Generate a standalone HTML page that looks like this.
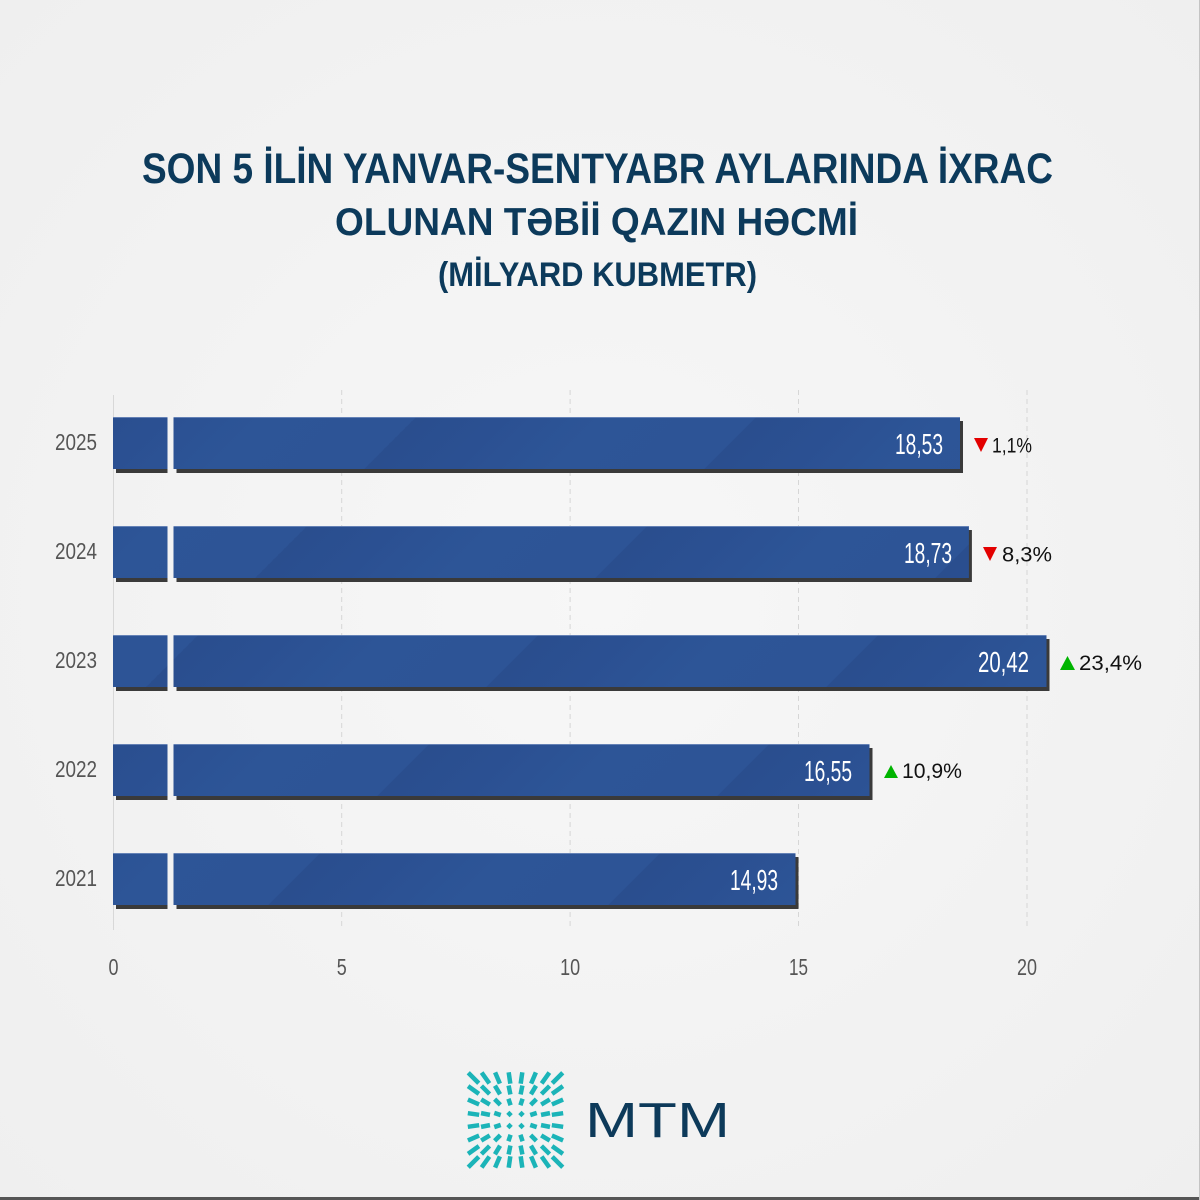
<!DOCTYPE html>
<html><head><meta charset="utf-8"><style>
html,body{margin:0;padding:0;background:#f2f2f2;}
svg{display:block;}
</style></head><body>
<svg width="1200" height="1200" viewBox="0 0 1200 1200" xmlns="http://www.w3.org/2000/svg">
<defs>
<radialGradient id="bg" cx="0.5" cy="0.5" r="0.7">
<stop offset="0" stop-color="#f7f7f7"/><stop offset="1" stop-color="#efefef"/>
</radialGradient>
<linearGradient id="stripe" gradientUnits="userSpaceOnUse" x1="0" y1="0" x2="170" y2="170" spreadMethod="repeat">
<stop offset="0" stop-color="#2d5597"/><stop offset="0.45" stop-color="#2d5496"/>
<stop offset="0.45" stop-color="#2a4e8e"/><stop offset="0.7" stop-color="#2b5092"/>
<stop offset="1" stop-color="#2d5597"/>
</linearGradient>
<g id="q" stroke="#1bb4b8" stroke-width="4.5" stroke-linecap="butt">
<line x1="4.34" y1="4.34" x2="7.66" y2="7.66"/>
<line x1="4.93" y1="14.77" x2="7.07" y2="21.23"/>
<line x1="5.11" y1="25.53" x2="6.89" y2="34.47"/>
<line x1="5.19" y1="36.32" x2="6.81" y2="47.68"/>
<line x1="14.77" y1="4.93" x2="21.23" y2="7.07"/>
<line x1="15.14" y1="15.14" x2="20.86" y2="20.86"/>
<line x1="15.43" y1="25.71" x2="20.57" y2="34.29"/>
<line x1="15.61" y1="36.42" x2="20.39" y2="47.58"/>
<line x1="25.53" y1="5.11" x2="34.47" y2="6.89"/>
<line x1="25.71" y1="15.43" x2="34.29" y2="20.57"/>
<line x1="25.94" y1="25.94" x2="34.06" y2="34.06"/>
<line x1="26.13" y1="36.58" x2="33.87" y2="47.42"/>
<line x1="36.32" y1="5.19" x2="47.68" y2="6.81"/>
<line x1="36.42" y1="15.61" x2="47.58" y2="20.39"/>
<line x1="36.58" y1="26.13" x2="47.42" y2="33.87"/>
<line x1="36.74" y1="36.74" x2="47.26" y2="47.26"/>
</g>
</defs>
<rect width="1200" height="1200" fill="url(#bg)"/>

<!-- Title -->
<g fill="#0c3a5b" font-family="Liberation Sans, sans-serif" font-weight="bold">
<text x="142" y="183" font-size="43" textLength="911" lengthAdjust="spacingAndGlyphs">SON 5 İLİN YANVAR-SENTYABR AYLARINDA İXRAC</text>
<text x="335" y="235" font-size="39" textLength="523" lengthAdjust="spacingAndGlyphs">OLUNAN TƏBİİ QAZIN HƏCMİ</text>
<text x="438" y="286" font-size="34" textLength="319" lengthAdjust="spacingAndGlyphs">(MİLYARD KUBMETR)</text>
</g>

<!-- Grid -->
<g stroke="#d6d6d6" stroke-width="1" stroke-dasharray="5,4">
<line x1="341.7" y1="390" x2="341.7" y2="930"/>
<line x1="570.1" y1="390" x2="570.1" y2="930"/>
<line x1="798.5" y1="390" x2="798.5" y2="930"/>
<line x1="1027" y1="390" x2="1027" y2="930"/>
</g>
<line x1="113.5" y1="395" x2="113.5" y2="930" stroke="#d8d8d8" stroke-width="1"/>

<!-- Bars -->
<g>
<rect x="116" y="421" width="51.5" height="52" fill="#3a3a3a"/>
<rect x="176.5" y="421" width="786.5" height="52" fill="#3a3a3a"/>
<rect x="113" y="417" width="54.5" height="52" fill="url(#stripe)"/>
<rect x="173.5" y="417" width="786.5" height="52" fill="url(#stripe)"/>

<rect x="116" y="530" width="51.5" height="52" fill="#3a3a3a"/>
<rect x="176.5" y="530" width="795.4" height="52" fill="#3a3a3a"/>
<rect x="113" y="526" width="54.5" height="52" fill="url(#stripe)"/>
<rect x="173.5" y="526" width="795.4" height="52" fill="url(#stripe)"/>

<rect x="116" y="639" width="51.5" height="52" fill="#3a3a3a"/>
<rect x="176.5" y="639" width="873" height="52" fill="#3a3a3a"/>
<rect x="113" y="635" width="54.5" height="52" fill="url(#stripe)"/>
<rect x="173.5" y="635" width="873" height="52" fill="url(#stripe)"/>

<rect x="116" y="748" width="51.5" height="52" fill="#3a3a3a"/>
<rect x="176.5" y="748" width="696" height="52" fill="#3a3a3a"/>
<rect x="113" y="744" width="54.5" height="52" fill="url(#stripe)"/>
<rect x="173.5" y="744" width="696" height="52" fill="url(#stripe)"/>

<rect x="116" y="857" width="51.5" height="52" fill="#3a3a3a"/>
<rect x="176.5" y="857" width="622" height="52" fill="#3a3a3a"/>
<rect x="113" y="853" width="54.5" height="52" fill="url(#stripe)"/>
<rect x="173.5" y="853" width="622" height="52" fill="url(#stripe)"/>
</g>
<g stroke="#7d96c4" stroke-width="1" opacity="0.7">
<line x1="113" y1="417.5" x2="167.5" y2="417.5"/><line x1="173.5" y1="417.5" x2="960" y2="417.5"/>
<line x1="113" y1="526.5" x2="167.5" y2="526.5"/><line x1="173.5" y1="526.5" x2="968.9" y2="526.5"/>
<line x1="113" y1="635.5" x2="167.5" y2="635.5"/><line x1="173.5" y1="635.5" x2="1046.5" y2="635.5"/>
<line x1="113" y1="744.5" x2="167.5" y2="744.5"/><line x1="173.5" y1="744.5" x2="869.5" y2="744.5"/>
<line x1="113" y1="853.5" x2="167.5" y2="853.5"/><line x1="173.5" y1="853.5" x2="795.5" y2="853.5"/>
</g>

<!-- Value labels -->
<g fill="#ffffff" font-family="Liberation Sans Narrow, Liberation Sans, sans-serif" font-size="29" text-anchor="end">
<text x="943" y="454" textLength="48" lengthAdjust="spacingAndGlyphs">18,53</text>
<text x="952" y="563" textLength="48" lengthAdjust="spacingAndGlyphs">18,73</text>
<text x="1029" y="672" textLength="51" lengthAdjust="spacingAndGlyphs">20,42</text>
<text x="852" y="781" textLength="48" lengthAdjust="spacingAndGlyphs">16,55</text>
<text x="778" y="890" textLength="48" lengthAdjust="spacingAndGlyphs">14,93</text>
</g>

<!-- Change labels -->
<polygon points="974,438 988,438 981,452" fill="#e30000"/>
<polygon points="983,547 997,547 990,561" fill="#e30000"/>
<polygon points="1060,670 1075,670 1067.5,656" fill="#00b400"/>
<polygon points="884,778 898,778 891,765" fill="#00b400"/>
<g fill="#111" font-family="Liberation Sans, sans-serif" font-size="21">
<text x="992" y="452.5" textLength="40" lengthAdjust="spacingAndGlyphs">1,1%</text>
<text x="1002" y="561.5" textLength="50" lengthAdjust="spacingAndGlyphs">8,3%</text>
<text x="1079" y="670" textLength="63" lengthAdjust="spacingAndGlyphs">23,4%</text>
<text x="902" y="778" textLength="60" lengthAdjust="spacingAndGlyphs">10,9%</text>
</g>

<!-- Year labels -->
<g fill="#555" font-family="Liberation Sans Narrow, Liberation Sans, sans-serif" font-size="23" text-anchor="end">
<text x="97" y="450" textLength="42" lengthAdjust="spacingAndGlyphs">2025</text>
<text x="97" y="559" textLength="42" lengthAdjust="spacingAndGlyphs">2024</text>
<text x="97" y="668" textLength="42" lengthAdjust="spacingAndGlyphs">2023</text>
<text x="97" y="777" textLength="42" lengthAdjust="spacingAndGlyphs">2022</text>
<text x="97" y="886" textLength="42" lengthAdjust="spacingAndGlyphs">2021</text>
</g>

<!-- Tick labels -->
<g fill="#555" font-family="Liberation Sans Narrow, Liberation Sans, sans-serif" font-size="23" text-anchor="middle">
<text x="113.5" y="975" textLength="10" lengthAdjust="spacingAndGlyphs">0</text>
<text x="341.7" y="975" textLength="10" lengthAdjust="spacingAndGlyphs">5</text>
<text x="570.1" y="975" textLength="20" lengthAdjust="spacingAndGlyphs">10</text>
<text x="798.5" y="975" textLength="19" lengthAdjust="spacingAndGlyphs">15</text>
<text x="1027" y="975" textLength="20" lengthAdjust="spacingAndGlyphs">20</text>
</g>

<!-- Logo -->
<g transform="translate(515.5,1120)">
<use href="#q"/>
<use href="#q" transform="scale(-1,1)"/>
<use href="#q" transform="scale(1,-1)"/>
<use href="#q" transform="scale(-1,-1)"/>
</g>
<text x="585" y="1137" fill="#0d3a5a" font-family="Liberation Sans, sans-serif" font-size="49" textLength="145" lengthAdjust="spacingAndGlyphs">MTM</text>

<!-- Borders -->
<rect x="0" y="1197" width="1200" height="3" fill="#555"/>
<rect x="1199" y="0" width="1" height="1200" fill="#c4c4c4"/>
</svg>
</body></html>
